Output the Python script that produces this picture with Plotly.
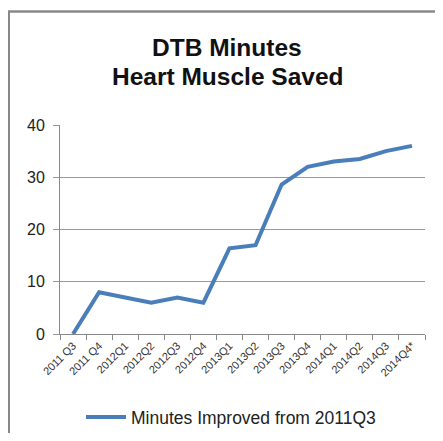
import plotly.graph_objects as go

quarters = ["2011 Q3", "2011 Q4", "2012Q1", "2012Q2", "2012Q3", "2012Q4", "2013Q1",
            "2013Q2", "2013Q3", "2013Q4", "2014Q1", "2014Q2", "2014Q3", "2014Q4*"]
minutes = [0, 8, 7, 6, 7, 6, 16.4, 17, 28.6, 32, 33, 33.5, 35, 36]
series_name = "Minutes Improved from 2011Q3"
title_lines = ["DTB Minutes", "Heart Muscle Saved"]

# page body has an 8px margin; figure coordinates are screen - 8
OFF = 8
W, H = 427, 425
L, R, T, B = 52, 10, 117, 99
pw, ph = W - L - R, H - T - B

def px_x(x):
    return (x - OFF - L) / pw

def px_y(y):
    return (H - B - (y - OFF)) / ph

fig = go.Figure()
fig.add_trace(go.Scatter(
    x=quarters, y=minutes, mode="lines", name=series_name,
    line=dict(color="#4A7EBB", width=4),
))

fig.update_layout(
    width=W, height=H,
    margin=dict(l=L, r=R, t=T, b=B, autoexpand=False),
    paper_bgcolor="white", plot_bgcolor="white",
    font=dict(family="Liberation Sans, Arial, sans-serif", color="#222"),
    showlegend=True,
    legend=dict(orientation="h", x=px_x(231), xanchor="center", y=px_y(417), yanchor="middle",
                font=dict(size=17.5, color="#222"), itemwidth=40),
    xaxis=dict(
        type="category", tickangle=-45, tickson="boundaries", ticks="outside",
        ticklen=5, tickcolor="#888", showline=True, linecolor="#888", linewidth=1,
        showgrid=False, tickfont=dict(size=11, color="#333"), automargin=False,
        range=[-0.5, 13.5],
    ),
    yaxis=dict(
        range=[0, 40], dtick=10, showgrid=True, gridcolor="#999", gridwidth=1,
        showline=True, linecolor="#888", linewidth=1, ticks="outside", ticklen=6,
        tickcolor="#999", zeroline=False, tickfont=dict(size=16, color="#222"),
        ticklabelstandoff=5, automargin=False,
    ),
    annotations=[
        dict(text="<b>" + title_lines[0] + "</b>", xref="paper", yref="paper",
             x=px_x(227), y=px_y(47), xanchor="center", yanchor="middle", showarrow=False,
             font=dict(size=24.5, color="#111", family="Liberation Sans, Arial, sans-serif")),
        dict(text="<b>" + title_lines[1] + "</b>", xref="paper", yref="paper",
             x=px_x(228), y=px_y(77), xanchor="center", yanchor="middle", showarrow=False,
             font=dict(size=24.5, color="#111", family="Liberation Sans, Arial, sans-serif")),
    ],
    shapes=[
        dict(type="line", xref="paper", yref="paper", x0=px_x(7), x1=px_x(460),
             y0=px_y(11.5), y1=px_y(11.5), line=dict(color="#888", width=2.5)),
        dict(type="line", xref="paper", yref="paper", x0=px_x(8.5), x1=px_x(8.5),
             y0=px_y(11.5), y1=px_y(460), line=dict(color="#888", width=3)),
    ],
)

fig.write_html("out.html")
